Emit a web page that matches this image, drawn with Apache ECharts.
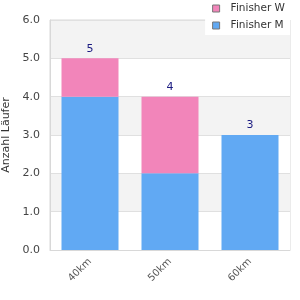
<!DOCTYPE html>
<html>
<head>
<meta charset="utf-8">
<script src="https://cdn.jsdelivr.net/npm/echarts@6/dist/echarts.min.js"></script>
<style>
html, body { margin: 0; padding: 0; background: #fff; }
#chart { width: 300px; height: 300px; }
</style>
</head>
<body>
<div id="chart"></div>
<script>
// Daten
var categories = ['40km', '50km', '60km'];
var finisherM = [4, 2, 3];
var finisherW = [1, 2, 0];
var totals = [5, 4, 3];
var yTicks = [0, 1, 2, 3, 4, 5, 6];

var chart = echarts.init(document.getElementById('chart'));

var option = {
    animation: false,
    textStyle: { fontFamily: 'DejaVu Sans' },
    grid: {
        left: 50, right: 10, top: 20, bottom: 50,
        outerBoundsMode: 'none',
        containLabel: false,
        show: true,
        borderColor: '#d8d8d8',
        borderWidth: 1,
        backgroundColor: 'transparent'
    },
    legend: {
        data: ['Finisher W', 'Finisher M'],
        orient: 'vertical',
        right: 10,
        top: 0,
        itemWidth: 7,
        itemHeight: 7,
        itemGap: 6,
        padding: [3, 5, 4, 7],
        backgroundColor: '#fff',
        icon: 'rect',
        itemStyle: { borderColor: '#777', borderWidth: 1 },
        textStyle: { fontSize: 10.5, color: '#333', padding: [0, 0, 0, 6] }
    },
    xAxis: {
        type: 'category',
        data: categories,
        axisTick: { show: false },
        axisLine: { lineStyle: { color: '#d8d8d8' } },
        axisLabel: { rotate: 45, fontSize: 10, color: '#555', margin: 10 }
    },
    yAxis: {
        type: 'value',
        min: yTicks[0],
        max: yTicks[yTicks.length - 1],
        interval: 1,
        name: 'Anzahl Läufer',
        nameLocation: 'middle',
        nameGap: 38,
        nameTextStyle: { fontSize: 11, color: '#333' },
        axisLine: { show: true, lineStyle: { color: '#d8d8d8' } },
        axisTick: { show: false },
        axisLabel: {
            fontSize: 11, color: '#444', margin: 10,
            formatter: function (v) { return v.toFixed(1); }
        },
        splitLine: { lineStyle: { color: '#e0e0e0' } },
        splitArea: { show: true, areaStyle: { color: ['#fff', '#f3f3f3'] } }
    },
    series: [
        {
            name: 'Finisher M',
            type: 'bar',
            stack: 'a',
            barWidth: 57,
            itemStyle: { color: '#61a9f3' },
            data: finisherM
        },
        {
            name: 'Finisher W',
            type: 'bar',
            stack: 'a',
            itemStyle: { color: '#f285ba' },
            data: finisherW
        },
        { // Summe über dem Stapel
            name: 'Summe',
            type: 'bar',
            stack: 'a',
            data: totals.map(function () { return 0; }),
            itemStyle: { color: 'transparent' },
            label: {
                show: true,
                position: 'top',
                distance: 4,
                fontSize: 11,
                color: '#1a1a80',
                formatter: function (p) { return totals[p.dataIndex]; }
            }
        }
    ]
};

chart.setOption(option);
</script>
</body>
</html>
